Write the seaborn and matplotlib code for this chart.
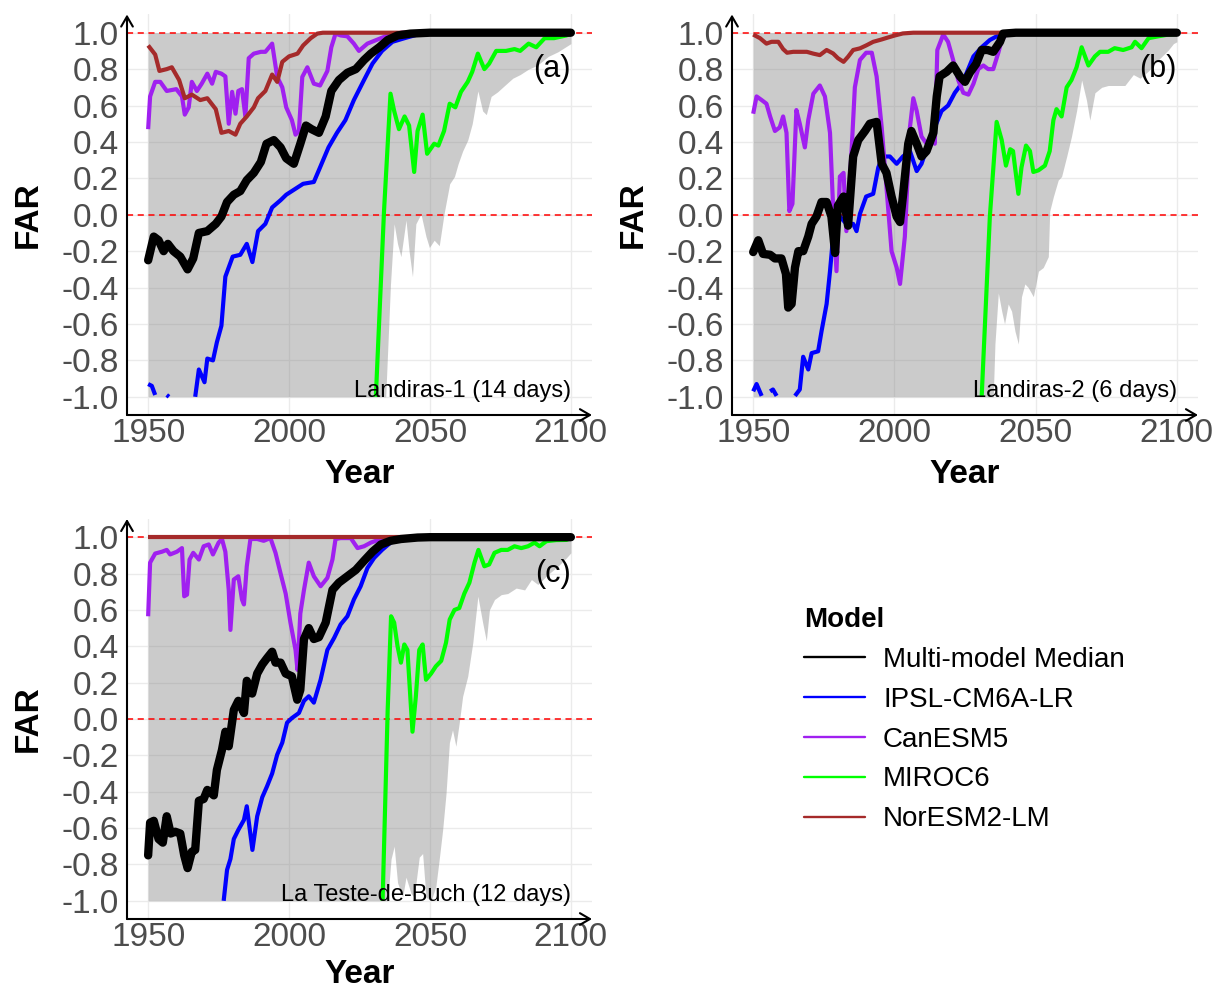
import numpy as np
import pandas as pd
import matplotlib
matplotlib.use("Agg")
import matplotlib.pyplot as plt
from matplotlib.lines import Line2D
import seaborn as sns

# model names / colours (R colour names)
MODELS = ["Multi-model Median", "IPSL-CM6A-LR", "CanESM5", "MIROC6", "NorESM2-LM"]
COLORS = ["black", "#0000FF", "#A020F0", "#00FF00", "#A52A2A"]

Y_TICKS = [-1.0, -0.8, -0.6, -0.4, -0.2, 0.0, 0.2, 0.4, 0.6, 0.8, 1.0]
Y_LABELS = ["-1.0", "-0.8", "-0.6", "-0.4", "-0.2", "0.0", "0.2", "0.4", "0.6", "0.8", "1.0"]
X_TICKS = [1950, 2000, 2050, 2100]

nan = np.nan

# ---------------- panel (a) Landiras-1 (14 days) ----------------
A_MEDIAN = [(1950, -0.25), (1952, -0.12), (1953.7, -0.14), (1955.5, -0.2), (1957, -0.16), (1959, -0.2),
            (1961.4, -0.23), (1964, -0.30), (1966, -0.24), (1968, -0.10), (1971, -0.09), (1974, -0.05),
            (1976, -0.01), (1978, 0.07), (1980.4, 0.11), (1982.7, 0.13), (1985, 0.19), (1987.5, 0.23),
            (1990, 0.29), (1992, 0.39), (1994.6, 0.41), (1997, 0.37), (1999, 0.31), (2001.7, 0.28),
            (2004, 0.39), (2006, 0.49), (2008, 0.47), (2010.6, 0.45), (2013, 0.54), (2015, 0.68),
            (2017.7, 0.74), (2020.7, 0.78), (2023.7, 0.80), (2026.6, 0.85), (2029, 0.885), (2032, 0.92),
            (2035, 0.96), (2038.5, 0.985), (2043, 0.995), (2050, 1.0), (2100, 1.0)]
A_IPSL = [(1950, -0.93), (1951.3, -0.94), (1952.5, -0.99), (1953, nan), (1956.6, -0.99), (1957.4, -1.0),
          (1958, nan), (1966.7, -1.0), (1968, -0.85), (1970, -0.92), (1971, -0.79), (1973, -0.80),
          (1974.4, -0.70), (1976, -0.61), (1977.4, -0.34), (1980, -0.23), (1982.7, -0.22), (1985, -0.16),
          (1987, -0.26), (1989, -0.09), (1991.6, -0.05), (1994, 0.04), (1997, 0.08), (1999, 0.11),
          (2003, 0.15), (2005, 0.17), (2008.8, 0.18), (2011, 0.26), (2014, 0.37), (2017, 0.45),
          (2020, 0.52), (2023, 0.63), (2026.6, 0.74), (2029.6, 0.83), (2033, 0.90), (2036.7, 0.95),
          (2041, 0.97), (2045.6, 0.99), (2050, 1.0), (2100, 1.0)]
A_CAN = [(1950, 0.47), (1950.7, 0.65), (1952.5, 0.73), (1954.3, 0.73), (1956.6, 0.68), (1960, 0.69),
         (1962, 0.65), (1963, 0.55), (1964.4, 0.59), (1965.5, 0.73), (1967.3, 0.68), (1969, 0.72),
         (1971, 0.775), (1972.7, 0.72), (1974, 0.785), (1976, 0.775), (1977.4, 0.76), (1978.6, 0.50),
         (1979.8, 0.675), (1981, 0.555), (1982, 0.68), (1983.3, 0.69), (1984.5, 0.54), (1985.7, 0.86),
         (1987.5, 0.885), (1990, 0.895), (1991.6, 0.895), (1994, 0.94), (1995.8, 0.757), (1997.6, 0.70),
         (1999, 0.59), (2001, 0.52), (2002.3, 0.44), (2003.5, 0.46), (2004.7, 0.757), (2006.5, 0.81),
         (2008.8, 0.72), (2011, 0.71), (2013.6, 0.79), (2015, 0.92), (2016.5, 0.995), (2018.3, 0.985),
         (2020.7, 0.98), (2023, 0.94), (2024.8, 0.90), (2027.8, 0.94), (2031, 0.96), (2035, 0.985),
         (2040, 1.0), (2100, 1.0)]
A_MIROC = [(2030.8, -1.0), (2033.7, 0.02), (2036, 0.665), (2037.3, 0.57), (2039, 0.47), (2041, 0.54),
           (2042.6, 0.49), (2044.4, 0.235), (2045.6, 0.46), (2047.4, 0.55), (2049, 0.335), (2051.5, 0.39),
           (2053, 0.38), (2055, 0.46), (2057, 0.61), (2059, 0.59), (2061, 0.675), (2063.4, 0.73),
           (2065, 0.785), (2067, 0.885), (2069.3, 0.80), (2071, 0.83), (2073.5, 0.90), (2077, 0.90),
           (2080, 0.91), (2082, 0.90), (2085, 0.94), (2087.7, 0.92), (2090.7, 0.97), (2094, 0.97),
           (2098.4, 0.985), (2100, 0.995)]
A_NOR = [(1950, 0.93), (1952.5, 0.88), (1954, 0.79), (1956.6, 0.80), (1958.4, 0.81), (1961, 0.74),
         (1963, 0.64), (1965.5, 0.66), (1968.5, 0.63), (1971, 0.64), (1974, 0.58), (1976, 0.45),
         (1978.6, 0.46), (1981, 0.44), (1982.7, 0.50), (1985, 0.54), (1987.5, 0.59), (1989, 0.64),
         (1991.6, 0.68), (1994, 0.77), (1995.8, 0.73), (1997.6, 0.84), (2000, 0.87), (2003, 0.885),
         (2005, 0.93), (2007.7, 0.97), (2010, 0.995), (2012, 1.0), (2100, 1.0)]
A_LOWER = [(1950, -1.0), (2034.3, -1.0), (2036, -0.38), (2037.3, -0.05), (2038.5, -0.16), (2039.7, -0.23),
           (2041.5, -0.03), (2042.6, -0.2), (2043.8, -0.34), (2045, -0.05), (2046.8, 0.005), (2048.6, -0.12),
           (2049.8, -0.18), (2051.5, -0.14), (2053.3, -0.17), (2055, 0.005), (2057, 0.17), (2058.7, 0.21),
           (2060, 0.28), (2061.6, 0.35), (2063.4, 0.41), (2065, 0.50), (2067, 0.68), (2068.7, 0.57),
           (2070, 0.55), (2071.7, 0.65), (2074, 0.675), (2076.5, 0.71), (2079.4, 0.75), (2082, 0.77),
           (2085, 0.80), (2088, 0.82), (2092, 0.87), (2095.4, 0.895), (2100, 0.94)]

# ---------------- panel (b) Landiras-2 (6 days) ----------------
B_MEDIAN = [(1950, -0.205), (1951.8, -0.14), (1953.5, -0.215), (1956, -0.22), (1957.7, -0.24), (1960, -0.24),
            (1961.6, -0.325), (1962.4, -0.51), (1963.6, -0.49), (1964.8, -0.29), (1966, -0.20), (1967.7, -0.20),
            (1969.5, -0.12), (1970.7, -0.05), (1972.4, -0.01), (1974.2, 0.07), (1976, 0.07), (1977.7, -0.01),
            (1979, -0.21), (1980, 0.05), (1982, 0.10), (1983.6, -0.06), (1985.4, 0.32), (1987.2, 0.41),
            (1989.6, 0.46), (1991.3, 0.50), (1993.7, 0.51), (1995.5, 0.28), (1997.2, 0.23), (1999, 0.10),
            (2000.8, -0.01), (2002, -0.04), (2003, 0.10), (2004.9, 0.39), (2006, 0.46), (2007.9, 0.39),
            (2009.6, 0.32), (2011.4, 0.35), (2013.8, 0.45), (2015, 0.65), (2016, 0.76), (2018.5, 0.785),
            (2020.8, 0.82), (2023.2, 0.76), (2025, 0.73), (2026.7, 0.78), (2029, 0.83), (2030.9, 0.905),
            (2033, 0.905), (2035, 0.895), (2037.4, 0.95), (2038.5, 0.995), (2043, 1.0), (2100, 1.0)]
B_IPSL = [(1950, -0.97), (1951.2, -0.93), (1953, -0.995), (1953.5, nan), (1956, -0.97), (1957, -0.96),
          (1958.3, -0.995), (1959, nan), (1964.8, -0.995), (1966.5, -0.96), (1967.7, -0.78), (1969.5, -0.85),
          (1970.7, -0.76), (1973, -0.75), (1974.2, -0.64), (1976, -0.49), (1977.2, -0.31), (1978.3, -0.12),
          (1980.7, -0.01), (1983, -0.05), (1985.4, -0.05), (1986.6, -0.09), (1987.8, 0.005), (1990, 0.10),
          (1992.5, 0.115), (1994.3, 0.26), (1996, 0.32), (1998.4, 0.32), (2000.8, 0.28), (2003, 0.32),
          (2005.5, 0.35), (2007.9, 0.24), (2009.6, 0.28), (2012, 0.39), (2014.3, 0.48), (2016.7, 0.57),
          (2019, 0.60), (2021.4, 0.67), (2023.8, 0.72), (2025.6, 0.78), (2028, 0.87), (2030.9, 0.92),
          (2033.8, 0.96), (2036.8, 0.985), (2039.7, 0.995), (2045, 1.0), (2100, 1.0)]
B_CAN = [(1950, 0.555), (1951.2, 0.65), (1953, 0.63), (1954.7, 0.61), (1956, 0.54), (1957.7, 0.46),
         (1959.4, 0.48), (1960.6, 0.54), (1961.8, 0.45), (1962.8, 0.02), (1963.9, 0.06), (1965.3, 0.575),
         (1966.5, 0.50), (1968.3, 0.37), (1969.5, 0.52), (1971.3, 0.665), (1973.6, 0.71), (1975.4, 0.65),
         (1977.2, 0.45), (1978.3, 0.04), (1979.5, -0.31), (1980.7, 0.21), (1982, 0.23), (1983, -0.09),
         (1984.8, 0.34), (1986, 0.70), (1987.8, 0.85), (1990, 0.89), (1992, 0.89), (1993.7, 0.76),
         (1995.5, 0.48), (1997.2, 0.15), (1999, -0.20), (2000.8, -0.29), (2002, -0.38), (2003.7, -0.12),
         (2005.5, 0.48), (2006.7, 0.64), (2007.9, 0.57), (2009.6, 0.43), (2011.4, 0.39), (2013, 0.43),
         (2014.3, 0.39), (2015.2, 0.905), (2017.3, 0.99), (2019, 0.95), (2020.8, 0.85), (2022.6, 0.74),
         (2024.4, 0.67), (2026.2, 0.66), (2028, 0.72), (2029.7, 0.80), (2031.5, 0.82), (2033.2, 0.80),
         (2035, 0.80), (2036.8, 0.89), (2038, 0.96), (2040, 1.0), (2100, 1.0)]
B_MIROC = [(2030.9, -1.0), (2033.8, -0.01), (2036.2, 0.51), (2038, 0.41), (2039.5, 0.27), (2041, 0.36),
           (2042, 0.35), (2043.9, 0.115), (2045, 0.26), (2046.6, 0.38), (2048, 0.35), (2049.2, 0.235),
           (2051, 0.244), (2053.3, 0.27), (2055, 0.35), (2056.3, 0.52), (2057.4, 0.58), (2059.2, 0.54),
           (2061, 0.70), (2062.7, 0.74), (2064.5, 0.81), (2066.3, 0.92), (2068.7, 0.82), (2071, 0.87),
           (2072.8, 0.895), (2075.7, 0.895), (2078, 0.915), (2081, 0.905), (2084, 0.92), (2085.2, 0.95),
           (2087.5, 0.915), (2090, 0.97), (2093.4, 0.98), (2097, 0.99), (2100, 0.993)]
B_NOR = [(1950, 0.99), (1952.4, 0.97), (1954.7, 0.94), (1956.5, 0.95), (1958.9, 0.95), (1960.6, 0.91),
         (1962, 0.89), (1964.2, 0.895), (1966.5, 0.895), (1969, 0.895), (1971.3, 0.885), (1973.6, 0.877),
         (1976, 0.905), (1978.3, 0.886), (1980, 0.86), (1982, 0.84), (1983.6, 0.868), (1985.4, 0.905),
         (1987.8, 0.914), (1990, 0.93), (1992.5, 0.95), (1995.5, 0.963), (1997.8, 0.974), (2000.2, 0.985),
         (2003, 0.996), (2006.7, 1.0), (2100, 1.0)]
B_LOWER = [(1950, -1.0), (2035, -1.0), (2035.6, -0.71), (2036.8, -0.43), (2038, -0.53), (2039, -0.6),
           (2040.3, -0.49), (2041.5, -0.53), (2042.7, -0.64), (2043.9, -0.71), (2045, -0.45), (2046.2, -0.38),
           (2047.4, -0.40), (2049.2, -0.45), (2051, -0.31), (2052.7, -0.29), (2054.5, -0.23), (2055, 0.02),
           (2056.3, 0.10), (2058, 0.19), (2059.2, 0.21), (2061, 0.32), (2062.7, 0.43), (2064.5, 0.57),
           (2066.3, 0.74), (2068, 0.63), (2069.2, 0.52), (2071, 0.67), (2073.4, 0.70), (2075.7, 0.71),
           (2078.6, 0.71), (2081.6, 0.71), (2084.6, 0.77), (2087, 0.75), (2090, 0.79), (2093.4, 0.85),
           (2097, 0.905), (2098.8, 0.94), (2100, 0.95)]

# ---------------- panel (c) La Teste-de-Buch (12 days) ----------------
C_MEDIAN = [(1950, -0.75), (1950.7, -0.57), (1952, -0.56), (1953.7, -0.66), (1955.2, -0.68), (1956.6, -0.535),
            (1958, -0.63), (1959.6, -0.62), (1961.4, -0.63), (1962.8, -0.75), (1964, -0.82), (1965.5, -0.73),
            (1966.7, -0.72), (1968, -0.45), (1969.7, -0.44), (1971, -0.39), (1973.3, -0.42), (1974.4, -0.28),
            (1976.2, -0.17), (1977.4, -0.07), (1978.6, -0.15), (1980.4, 0.05), (1982, 0.10), (1984, 0.033),
            (1985, 0.21), (1986.9, 0.14), (1988.7, 0.25), (1990.5, 0.30), (1992.2, 0.335), (1994, 0.37),
            (1995.2, 0.31), (1997, 0.31), (1998.8, 0.25), (2001, 0.235), (2002.9, 0.106), (2004, 0.16),
            (2005.3, 0.44), (2007, 0.50), (2008.8, 0.44), (2010.6, 0.45), (2013, 0.53), (2015.4, 0.71),
            (2017.7, 0.75), (2020.7, 0.785), (2023.7, 0.82), (2026.6, 0.87), (2029.6, 0.92), (2032.6, 0.96),
            (2036, 0.98), (2039.7, 0.99), (2045.6, 0.998), (2050, 1.0), (2100, 1.0)]
C_IPSL = [(1976.8, -1.0), (1978, -0.83), (1979.2, -0.77), (1980.4, -0.66), (1982, -0.61), (1984, -0.555),
          (1985, -0.48), (1987, -0.72), (1988.7, -0.535), (1990.5, -0.43), (1992.2, -0.37), (1994, -0.30),
          (1995.8, -0.196), (1997.6, -0.13), (1999.3, -0.02), (2001, 0.005), (2003.5, 0.033), (2005.3, 0.10),
          (2007, 0.125), (2008.8, 0.09), (2011.2, 0.216), (2013.6, 0.38), (2016, 0.446), (2018.3, 0.52),
          (2020.7, 0.565), (2023, 0.657), (2025.4, 0.73), (2027.8, 0.83), (2030.2, 0.886), (2033, 0.93),
          (2036, 0.97), (2039.7, 0.99), (2045, 1.0), (2100, 1.0)]
C_CAN = [(1950, 0.565), (1950.7, 0.86), (1952.5, 0.91), (1954.9, 0.92), (1956.6, 0.93), (1957.8, 0.905),
         (1960.2, 0.92), (1962, 0.94), (1962.8, 0.675), (1963.8, 0.684), (1964.7, 0.877), (1966, 0.914),
         (1968, 0.877), (1969.7, 0.95), (1971.5, 0.96), (1973, 0.905), (1975, 0.97), (1976.2, 0.99),
         (1977.4, 0.92), (1978.6, 0.71), (1979.2, 0.49), (1980.4, 0.767), (1982, 0.785), (1983.3, 0.657),
         (1984, 0.63), (1985, 0.84), (1986.3, 0.99), (1988.7, 0.99), (1991, 0.98), (1993.4, 0.995),
         (1995.2, 0.914), (1997, 0.80), (1998.8, 0.69), (2000.5, 0.53), (2002.3, 0.38), (2003, 0.27),
         (2004, 0.58), (2005.3, 0.71), (2007, 0.86), (2008.8, 0.785), (2011.2, 0.73), (2013.6, 0.776),
         (2015.4, 0.877), (2016.5, 0.99), (2018.3, 0.995), (2021.9, 0.995), (2024.3, 0.94), (2026.6, 0.95),
         (2029, 0.97), (2032.6, 0.99), (2036, 1.0), (2100, 1.0)]
C_MIROC = [(2033.2, -1.0), (2035, 0.05), (2036.2, 0.565), (2037.3, 0.53), (2038.5, 0.40), (2039.7, 0.31),
           (2040.9, 0.41), (2042, 0.38), (2043.8, -0.07), (2045, 0.125), (2046.2, 0.38), (2047.4, 0.41),
           (2048.6, 0.216), (2050.4, 0.25), (2052.1, 0.29), (2054, 0.32), (2055.7, 0.42), (2057, 0.547),
           (2058.7, 0.60), (2060.4, 0.61), (2062.2, 0.69), (2064, 0.75), (2065.8, 0.86), (2067.2, 0.93),
           (2069.3, 0.84), (2071, 0.85), (2072.9, 0.914), (2075.3, 0.93), (2077.6, 0.93), (2080, 0.95),
           (2082.4, 0.94), (2084.8, 0.95), (2087.1, 0.97), (2088.9, 0.95), (2091.3, 0.978), (2094.8, 0.984),
           (2098.4, 0.985), (2100, 0.995)]
C_NOR = [(1950, 1.0), (2100, 1.0)]
C_LOWER = [(1950, -1.0), (2035, -1.0), (2036.2, -0.77), (2037.3, -0.70), (2038.5, -0.9), (2040.3, -0.98),
           (2041.5, -0.87), (2043.3, -0.96), (2044.4, -0.98), (2046.2, -0.76), (2047.4, -0.74), (2048.6, -0.98),
           (2050.4, -1.0), (2052.1, -0.92), (2053.3, -0.77), (2054.5, -0.61), (2055.7, -0.41), (2056.9, -0.13),
           (2058, -0.06), (2059.2, -0.15), (2060.4, -0.02), (2061.6, 0.125), (2063.4, 0.235), (2065.2, 0.42),
           (2067, 0.675), (2068.7, 0.53), (2070, 0.43), (2071.1, 0.60), (2072.9, 0.657), (2075.3, 0.684),
           (2077.6, 0.69), (2080.6, 0.72), (2083.6, 0.71), (2086, 0.767), (2088.3, 0.74), (2091.9, 0.795),
           (2095.4, 0.84), (2098.4, 0.886), (2100, 0.914)]

PANELS = [
    ("(a)", "Landiras-1 (14 days)", [A_MEDIAN, A_IPSL, A_CAN, A_MIROC, A_NOR], A_LOWER),
    ("(b)", "Landiras-2 (6 days)", [B_MEDIAN, B_IPSL, B_CAN, B_MIROC, B_NOR], B_LOWER),
    ("(c)", "La Teste-de-Buch (12 days)", [C_MEDIAN, C_IPSL, C_CAN, C_MIROC, C_NOR], C_LOWER),
]

W, H = 1215, 990
# axes boxes in pixels: left, top, right, bottom
BOXES = [(127, 14.5, 592, 415), (732, 14.5, 1198, 415), (127, 519, 592, 919)]


def to_frame(pairs, model):
    df = pd.DataFrame(pairs, columns=["Year", "FAR"])
    df["seg"] = df["FAR"].isna().cumsum()
    df["Model"] = model
    return df.dropna()


sns.set_theme(style="whitegrid")
plt.rcParams["font.family"] = ["Liberation Sans", "DejaVu Sans"]
plt.rcParams["axes.unicode_minus"] = False
plt.rcParams["grid.color"] = "#EBEBEB"
plt.rcParams["grid.linewidth"] = 1.0
plt.rcParams["text.color"] = "black"

fig = plt.figure(figsize=(W / 100, H / 100), dpi=100)

for (tag, site, series, lower), (l, t, r, b) in zip(PANELS, BOXES):
    ax = fig.add_axes([l / W, 1 - b / H, (r - l) / W, (b - t) / H])
    ax.set_facecolor("white")
    ax.set_axisbelow(True)

    lo = pd.DataFrame(lower, columns=["Year", "low"])
    ax.fill_between(lo["Year"], lo["low"], 1.0, color="#7F7F7F", alpha=0.4, lw=0, zorder=1)

    ax.axhline(0, color="red", lw=1.1, ls=(0, (4, 3)), zorder=2)
    ax.axhline(1, color="red", lw=1.1, ls=(0, (4, 3)), zorder=2)

    # individual models first, median on top
    order = [1, 2, 3, 4, 0]
    for k in order:
        df = to_frame(series[k], MODELS[k])
        lw = 6.0 if k == 0 else 3.0
        sns.lineplot(data=df, x="Year", y="FAR", units="seg", estimator=None, sort=False,
                     color=COLORS[k], lw=lw, ax=ax, legend=False, zorder=3 + (k == 0),
                     solid_capstyle="round" if k == 0 else "butt")

    ax.set_xlim(1942.5, 2107.5)
    ax.set_ylim(-1.1, 1.1)
    ax.set_xticks(X_TICKS)
    ax.set_xticklabels([str(x) for x in X_TICKS])
    ax.set_yticks(Y_TICKS)
    ax.set_yticklabels(Y_LABELS)
    ax.tick_params(axis="both", length=0, labelsize=24, labelcolor="#4D4D4D")
    ax.tick_params(axis="x", pad=2)
    ax.tick_params(axis="y", pad=6)
    ax.set_xlabel("")
    ax.set_ylabel("")
    ax.grid(True, which="major")
    for s in ax.spines.values():
        s.set_visible(False)

    arrow = dict(arrowstyle="->,head_length=0.6,head_width=0.35", lw=1.5, color="black",
                 shrinkA=0, shrinkB=0, mutation_scale=12)
    ax.annotate("", xy=(0, 1), xytext=(0, 0), xycoords="axes fraction", arrowprops=arrow,
                annotation_clip=False)
    ax.annotate("", xy=(1, 0), xytext=(0, 0), xycoords="axes fraction", arrowprops=arrow,
                annotation_clip=False)

    ax.text(2100, -1.0, site, ha="right", va="baseline", fontsize=17, color="black", zorder=6)
    ax.text(2100, 0.8, tag, ha="right", va="center", fontsize=22, color="black", zorder=6)

    fig.text((l - 99) / W, 1 - ((t + b) / 2) / H, "FAR", rotation=90, ha="center", va="center",
             fontsize=24, fontweight="bold", color="black")
    fig.text(((l + r) / 2) / W, 1 - min(b + 68, 983) / H, "Year", ha="center", va="baseline",
             fontsize=24, fontweight="bold", color="black")

handles = [Line2D([0], [0], color=c, lw=1.7) for c in COLORS]
leg = fig.legend(handles, MODELS, title="Model", loc="upper left",
                 bbox_to_anchor=(790 / W, 1 - 593 / H), frameon=False, fontsize=20,
                 title_fontproperties={"weight": "bold", "size": 20}, handlelength=2.2,
                 handletextpad=0.65, labelspacing=0.5, borderpad=0, alignment="left")
leg.get_title().set_color("black")
for txt in leg.get_texts():
    txt.set_color("black")

fig.savefig("out.png", dpi=100)
